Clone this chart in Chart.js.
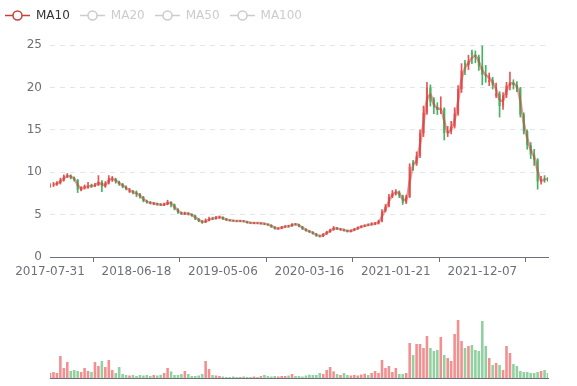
<!DOCTYPE html>
<html>
<head>
<meta charset="utf-8">
<script src="https://cdn.jsdelivr.net/npm/chart.js@4.4.1/dist/chart.umd.min.js"></script>
<style>
  html, body { margin: 0; padding: 0; background: #fff; overflow: hidden; }
  #wrap { position: relative; width: 577px; height: 386px; overflow: hidden; }
  #priceChart { position: absolute; left: -5px; top: 0; }
  #volChart { position: absolute; left: -5px; top: 300px; }
  #legend { position: absolute; left: 5px; top: 8px; width: 400px; display: flex; align-items: center; height: 14px;
            font: 12px 'DejaVu Sans', sans-serif; }
  #legend .item { display: flex; align-items: center; flex-shrink: 0; margin-right: 10px; cursor: pointer; }
  #legend canvas { display: block; flex-shrink: 0; width: 25px; height: 14px; margin-right: 6px; }
  #legend span { line-height: 14px; white-space: nowrap; }
</style>
</head>
<body>
<div id="wrap">
  <canvas id="priceChart" width="582" height="290" style="width:582px;height:290px"></canvas>
  <canvas id="volChart" width="582" height="86" style="width:582px;height:86px"></canvas>
  <div id="legend"></div>
</div>
<script>
// one candle ~ 8-9 trading days
const tickPos = [0, 25, 50, 75, 100, 125];
const tickLabels = ["2017-07-31", "2018-06-18", "2019-05-06", "2020-03-16", "2021-01-21", "2021-12-07"];

const open = [
  8.35, 8.5, 8.6, 8.75, 9.05, 9.5, 9.6, 9.35, 9.1, 7.85,
  8.15, 8.3, 8.5, 8.4, 8.5, 8.9, 8.3, 8.7, 9.1, 9.2,
  8.85, 8.6, 8.3, 7.65, 7.75, 7.6, 7.4, 7.1, 6.6, 6.45,
  6.25, 6.3, 6.2, 6.1, 6.2, 6.5, 6.2, 5.65, 5.25, 5.05,
  5.15, 5.05, 4.9, 4.5, 4.25, 4.1, 4.3, 4.6, 4.55, 4.65,
  4.7, 4.5, 4.35, 4.3, 4.28, 4.22, 4.26, 4.2, 4.05, 3.96,
  4.02, 3.92, 3.97, 3.88, 3.78, 3.55, 3.32, 3.38, 3.55, 3.7,
  3.65, 3.9, 3.85, 3.6, 3.3, 3.1, 2.95, 2.75, 2.5, 2.45,
  2.7, 2.95, 3.2, 3.45, 3.2, 3.25, 3.15, 3.0, 3.15, 3.3,
  3.5, 3.62, 3.85, 3.82, 3.9, 3.95, 4.2, 5.4, 5.95, 7.15,
  7.5, 7.7, 7.25, 6.4, 7.1, 11.2, 10.95, 11.9, 14.6, 17.0,
  20.0, 18.6, 17.7, 17.35, 17.5, 14.6, 14.8, 15.4, 16.9, 19.8,
  22.9, 22.6, 24.1, 23.85, 23.6, 22.5, 21.5, 20.6, 20.9, 19.0,
  19.3, 17.8, 19.1, 20.2, 20.6, 20.3, 19.9, 16.8, 14.8, 13.2,
  12.1, 11.5, 8.9, 9.25, 9.2
];
const close = [
  8.5, 8.55, 8.75, 9.05, 9.5, 9.6, 9.35, 9.1, 7.95, 8.15,
  8.3, 8.35, 8.4, 8.5, 8.9, 8.3, 8.7, 9.3, 9.2, 8.85,
  8.6, 8.3, 8.0, 7.75, 7.6, 7.4, 7.1, 6.6, 6.45, 6.35,
  6.3, 6.2, 6.15, 6.2, 6.5, 6.2, 5.65, 5.25, 5.1, 5.15,
  5.05, 4.9, 4.5, 4.25, 4.1, 4.3, 4.5, 4.55, 4.65, 4.7,
  4.5, 4.35, 4.3, 4.25, 4.25, 4.26, 4.2, 4.05, 4.0, 4.02,
  3.98, 3.97, 3.88, 3.78, 3.55, 3.35, 3.38, 3.55, 3.6, 3.65,
  3.88, 3.85, 3.6, 3.3, 3.1, 2.95, 2.75, 2.5, 2.45, 2.7,
  2.95, 3.2, 3.45, 3.3, 3.25, 3.15, 3.0, 3.15, 3.3, 3.5,
  3.62, 3.72, 3.82, 3.9, 3.95, 4.2, 5.4, 5.95, 7.15, 7.5,
  7.7, 7.25, 6.4, 7.1, 10.65, 10.95, 11.9, 14.6, 17.0, 20.0,
  18.3, 17.7, 17.35, 17.5, 14.6, 14.8, 15.4, 16.9, 19.8, 22.0,
  22.6, 23.1, 23.85, 23.6, 22.5, 21.5, 21.4, 20.9, 20.3, 19.3,
  17.8, 19.1, 20.2, 20.6, 20.3, 19.9, 16.8, 14.8, 13.2, 12.1,
  11.5, 8.9, 9.1, 9.2, 9.1
];
const low = [
  8.2, 8.3, 8.45, 8.6, 8.95, 9.35, 9.2, 8.95, 7.6, 7.8,
  8.0, 8.1, 8.2, 8.3, 8.4, 7.7, 8.2, 8.6, 8.9, 8.7,
  8.45, 8.15, 7.9, 7.6, 7.45, 7.1, 6.95, 6.5, 6.35, 6.25,
  6.15, 6.1, 6.05, 6.05, 6.15, 5.9, 5.55, 5.15, 5.0, 5.0,
  4.95, 4.8, 4.4, 4.15, 3.95, 4.05, 4.25, 4.4, 4.45, 4.55,
  4.4, 4.3, 4.25, 4.2, 4.18, 4.18, 4.12, 4.0, 3.95, 3.92,
  3.92, 3.88, 3.8, 3.72, 3.48, 3.28, 3.25, 3.33, 3.5, 3.52,
  3.6, 3.75, 3.55, 3.22, 3.05, 2.88, 2.7, 2.42, 2.35, 2.4,
  2.65, 2.9, 3.15, 3.22, 3.15, 3.05, 2.95, 2.95, 3.1, 3.25,
  3.45, 3.58, 3.68, 3.75, 3.82, 3.88, 4.15, 5.3, 5.9, 7.0,
  7.3, 7.0, 6.2, 6.3, 7.0, 10.2, 10.8, 11.7, 14.2, 16.8,
  17.8, 16.9, 16.8, 16.9, 13.8, 14.2, 14.5, 15.2, 16.7, 19.4,
  21.5, 22.1, 22.8, 22.9, 22.0, 20.3, 20.6, 20.2, 19.8, 18.8,
  16.5, 17.4, 18.8, 19.7, 19.8, 19.5, 16.5, 14.5, 12.7, 11.6,
  10.8, 8.0, 8.6, 8.8, 8.9
];
const high = [
  8.65, 8.8, 8.9, 9.3, 9.7, 9.85, 9.7, 9.45, 9.15, 8.3,
  8.5, 8.8, 8.6, 8.7, 9.6, 9.0, 8.9, 9.6, 9.5, 9.3,
  8.95, 8.7, 8.4, 8.1, 7.85, 7.8, 7.5, 7.15, 6.7, 6.55,
  6.45, 6.35, 6.3, 6.35, 6.7, 6.55, 6.25, 5.7, 5.3, 5.3,
  5.25, 5.1, 4.95, 4.55, 4.3, 4.5, 4.7, 4.7, 4.8, 4.85,
  4.75, 4.55, 4.4, 4.35, 4.32, 4.32, 4.3, 4.22, 4.1, 4.08,
  4.06, 4.05, 4.0, 3.92, 3.8, 3.58, 3.45, 3.62, 3.7, 3.75,
  3.95, 3.98, 3.88, 3.62, 3.35, 3.15, 3.0, 2.78, 2.58, 2.78,
  3.05, 3.3, 3.6, 3.5, 3.38, 3.3, 3.18, 3.2, 3.38, 3.55,
  3.7, 3.8, 3.9, 4.05, 4.1, 4.35, 5.6, 6.2, 7.4, 7.85,
  7.95, 7.8, 7.3, 7.3, 11.0, 11.4, 12.4, 15.0, 17.8, 20.6,
  20.3, 18.8, 18.2, 18.9, 17.6, 15.4, 16.0, 17.6, 20.2, 22.8,
  23.2, 23.8, 24.4, 24.3, 23.8, 24.9, 22.6, 21.7, 21.2, 20.5,
  19.5, 19.4, 20.6, 21.8, 20.9, 20.7, 20.0, 17.0, 15.0, 13.5,
  12.7, 11.6, 9.5, 9.6, 9.4
];
const volume = [
  5, 6, 5, 22, 10, 16, 7, 8, 7, 6,
  10, 7, 6, 16, 12, 17, 11, 18, 8, 5,
  11, 4, 3, 2.5, 3, 2, 3, 2.5, 3, 2,
  3, 2.5, 3, 5, 10, 6.6, 3, 3, 4, 7,
  4, 2, 2, 2.5, 4, 17, 9, 3, 2.5, 2,
  1.5, 1, 1, 1.5, 1, 1, 1.5, 1, 1, 1.5,
  1, 2, 3, 2, 1.5, 2, 1.5, 2, 2, 2.5,
  4, 2, 2, 1.5, 2.5, 3.3, 3, 3, 5, 4,
  8, 11, 6.6, 4, 3, 5, 3, 2.5, 3, 2.5,
  3.5, 4.3, 3, 5, 7, 5, 18, 10, 12, 6,
  10, 4, 4, 5, 35, 23, 34, 34, 30, 42,
  30, 27, 28, 41, 23, 20, 17, 44, 58, 37,
  30, 32, 33, 28, 27, 57, 32, 20, 13, 15,
  13, 8, 32, 25, 14, 12, 7, 6, 6, 5,
  5, 6, 7, 8, 5
];

const maNames = ["MA10", "MA20", "MA50", "MA100"];
const maCandles = [2, 3, 6, 12]; // window in candles
const maColors = ["#c9403a", "#2f4554", "#61a0a8", "#d48265"];

const UP = "#eb5454";
const DOWN = "#47b262";

Chart.defaults.font.family = "'DejaVu Sans', sans-serif";
Chart.defaults.font.size = 12;

function calcMA(n) {
  return close.map((v, i) => {
    if (i < n - 1) return { x: i, y: null };
    let sum = 0;
    for (let k = 0; k < n; k++) sum += close[i - k];
    return { x: i, y: sum / n };
  });
}

// "—o—" legend symbol
function legendIcon(color) {
  const c = document.createElement("canvas");
  c.width = 25;
  c.height = 14;
  const g = c.getContext("2d");
  g.strokeStyle = color;
  g.lineWidth = 1.5;
  g.beginPath();
  g.moveTo(0, 7.5);
  g.lineTo(8, 7.5);
  g.moveTo(17, 7.5);
  g.lineTo(25, 7.5);
  g.stroke();
  g.beginPath();
  g.arc(12.5, 7.5, 4.5, 0, Math.PI * 2);
  g.fillStyle = "#fff";
  g.fill();
  g.stroke();
  return c;
}

const isUp = close.map((c, i) => c >= open[i]);
const candleColors = isUp.map(u => (u ? UP : DOWN));
const volColors = isUp.map(u => (u ? "rgba(235,84,84,0.65)" : "rgba(71,178,98,0.6)"));

const maSets = maNames.map((name, i) => ({
  type: "line",
  label: name,
  data: calcMA(maCandles[i]),
  borderColor: i === 0 ? "rgba(201,64,58,0.5)" : maColors[i],
  borderWidth: 2.5,
  pointRadius: 0,
  tension: 0.3,
  hidden: i > 0
}));

const priceChart = new Chart(document.getElementById("priceChart"), {
  type: "bar",
  data: {
    datasets: [
      ...maSets,
      {
        label: "body",
        data: open.map((o, i) => ({ x: i, y: [Math.min(o, close[i]), Math.max(o, close[i])] })),
        backgroundColor: candleColors,
        categoryPercentage: 1,
        barPercentage: 0.6,
        grouped: false
      },
      {
        label: "wick",
        data: low.map((l, i) => ({ x: i, y: [l, high[i]] })),
        backgroundColor: candleColors,
        barThickness: 1,
        grouped: false
      }
    ]
  },
  options: {
    responsive: false,
    animation: false,
    layout: { padding: { left: 0, right: 29, top: 45, bottom: 0 } },
    plugins: { tooltip: { enabled: false }, legend: { display: false } },
    scales: {
      x: {
        type: "linear",
        min: 0,
        max: close.length - 1,
        offset: false,
        afterBuildTicks: ax => { ax.ticks = tickPos.map(v => ({ value: v })); },
        afterFit: ax => { ax.height = 33; },
        grid: { drawOnChartArea: false, drawTicks: true, tickLength: 5, color: "#6E7079" },
        border: { display: true, color: "#6E7079" },
        ticks: {
          color: "#6E7079",
          padding: 3,
          maxRotation: 0,
          autoSkip: false,
          callback: v => tickLabels[tickPos.indexOf(v)]
        }
      },
      y: {
        min: 0,
        max: 25,
        afterFit: ax => { ax.width = 55; },
        border: { display: false, dash: [5, 5] },
        grid: { color: "#E0E6F1", drawTicks: false },
        ticks: { stepSize: 5, padding: 8, color: "#6E7079" }
      }
    }
  }
});

function drawLegend() {
  const box = document.getElementById("legend");
  box.innerHTML = "";
  maNames.forEach((name, i) => {
    const on = priceChart.isDatasetVisible(i);
    const item = document.createElement("div");
    item.className = "item";
    item.appendChild(legendIcon(on ? maColors[i] : "#ccc"));
    const txt = document.createElement("span");
    txt.textContent = name;
    txt.style.color = on ? "#333" : "#ccc";
    item.appendChild(txt);
    item.onclick = () => {
      priceChart.setDatasetVisibility(i, !on);
      priceChart.update();
      drawLegend();
    };
    box.appendChild(item);
  });
}
drawLegend();

new Chart(document.getElementById("volChart"), {
  type: "bar",
  data: {
    datasets: [{
      label: "Volume",
      data: volume.map((v, i) => ({ x: i, y: v })),
      backgroundColor: volColors,
      categoryPercentage: 1,
      barPercentage: 0.75
    }]
  },
  options: {
    responsive: false,
    animation: false,
    layout: { padding: { left: 55, right: 29, top: 10, bottom: 8 } },
    plugins: { legend: { display: false }, tooltip: { enabled: false } },
    scales: {
      x: {
        type: "linear",
        min: 0,
        max: close.length - 1,
        offset: false,
        afterFit: ax => { ax.height = 0; },
        ticks: { display: false },
        grid: { drawOnChartArea: false, drawTicks: false },
        border: { display: true, color: "#6E7079" }
      },
      y: { display: false, min: 0, max: 68 }
    }
  }
});
</script>
</body>
</html>
